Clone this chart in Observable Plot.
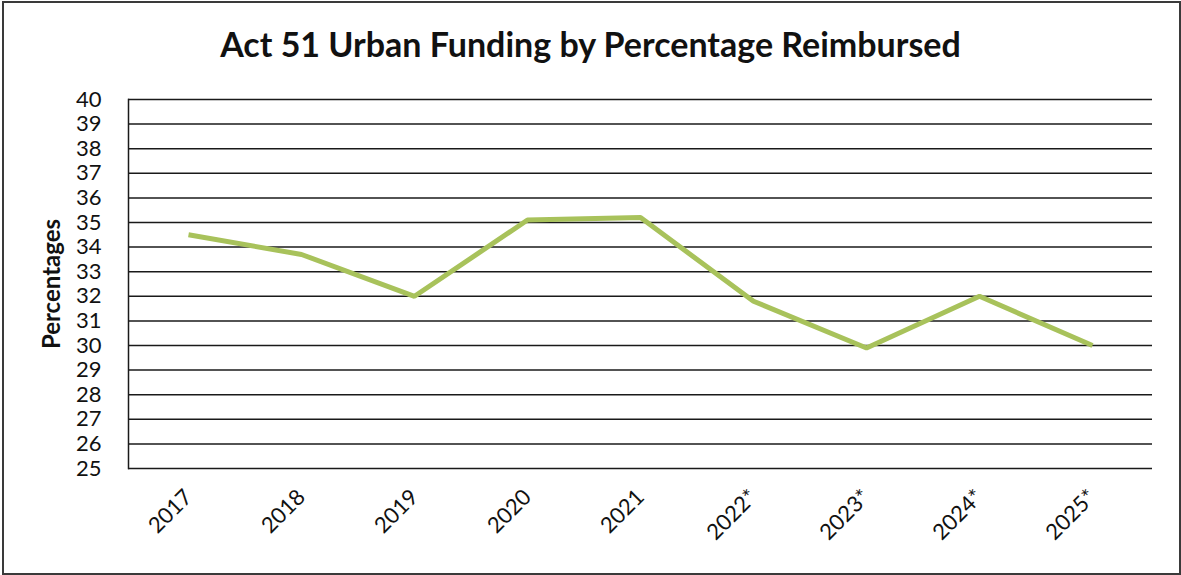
<!DOCTYPE html>
<html>
<head>
<meta charset="utf-8">
<script src="https://cdn.jsdelivr.net/npm/d3@7"></script>
<script src="https://cdn.jsdelivr.net/npm/@observablehq/plot@0.6"></script>
<style>
  html, body { margin: 0; padding: 0; background: #fff; }
  #wrap { position: relative; width: 1181px; height: 575px; overflow: hidden; font-family: Lato, "Open Sans", sans-serif; }
  #frame { position: absolute; left: 2px; top: 1px; width: 1175px; height: 570px; border: 2px solid #3a3a3a; pointer-events: none; }
  #title { height: 80px; box-sizing: border-box; padding-top: 27px; text-align: center; font-weight: bold; font-size: 34px; line-height: 1; color: #111; }
  svg { display: block; }
</style>
</head>
<body>
<div id="wrap">
  <div id="title">Act 51 Urban Funding by Percentage Reimbursed</div>
  <div id="chart"></div>
  <div id="frame"></div>
</div>
<script>
const years = ["2017", "2018", "2019", "2020", "2021", "2022*", "2023*", "2024*", "2025*"];
const percentages = [34.5, 33.7, 32.0, 35.1, 35.2, 31.8, 29.9, 32.0, 30.0];
const yTicks = [25, 26, 27, 28, 29, 30, 31, 32, 33, 34, 35, 36, 37, 38, 39, 40];
const yLabel = "Percentages";

const data = years.map((year, i) => ({year, value: percentages[i]}));

const chart = Plot.plot({
  width: 1181,
  height: 495,
  marginTop: 19,
  marginBottom: 107,
  marginLeft: 128,
  marginRight: 29,
  style: { fontFamily: "Lato, 'Open Sans', sans-serif", color: "#111", background: "transparent" },
  x: { type: "point", domain: years, padding: 0.5, label: null },
  y: { domain: [25, 40], label: null },
  marks: [
    Plot.ruleY(yTicks, { stroke: "#1a1a1a", strokeWidth: 1.5 }),
    Plot.frame({ anchor: "left", stroke: "#1a1a1a", strokeWidth: 1.5 }),
    Plot.axisY(yTicks, { tickSize: 0, tickPadding: 27, fontSize: 22, label: null }),
    Plot.axisX(years, { tickSize: 0, tickPadding: 25, tickRotate: -45, fontSize: 22, label: null }),
    Plot.text([yLabel], { frameAnchor: "left", textAnchor: "middle", dx: -76, rotate: -90, text: d => d, fontSize: 24, fontWeight: "bold" }),
    Plot.line(data, { x: "year", y: "value", stroke: "#a8c25b", strokeWidth: 5, strokeLinejoin: "miter", strokeLinecap: "butt" })
  ]
});
document.getElementById("chart").appendChild(chart);
</script>
</body>
</html>
